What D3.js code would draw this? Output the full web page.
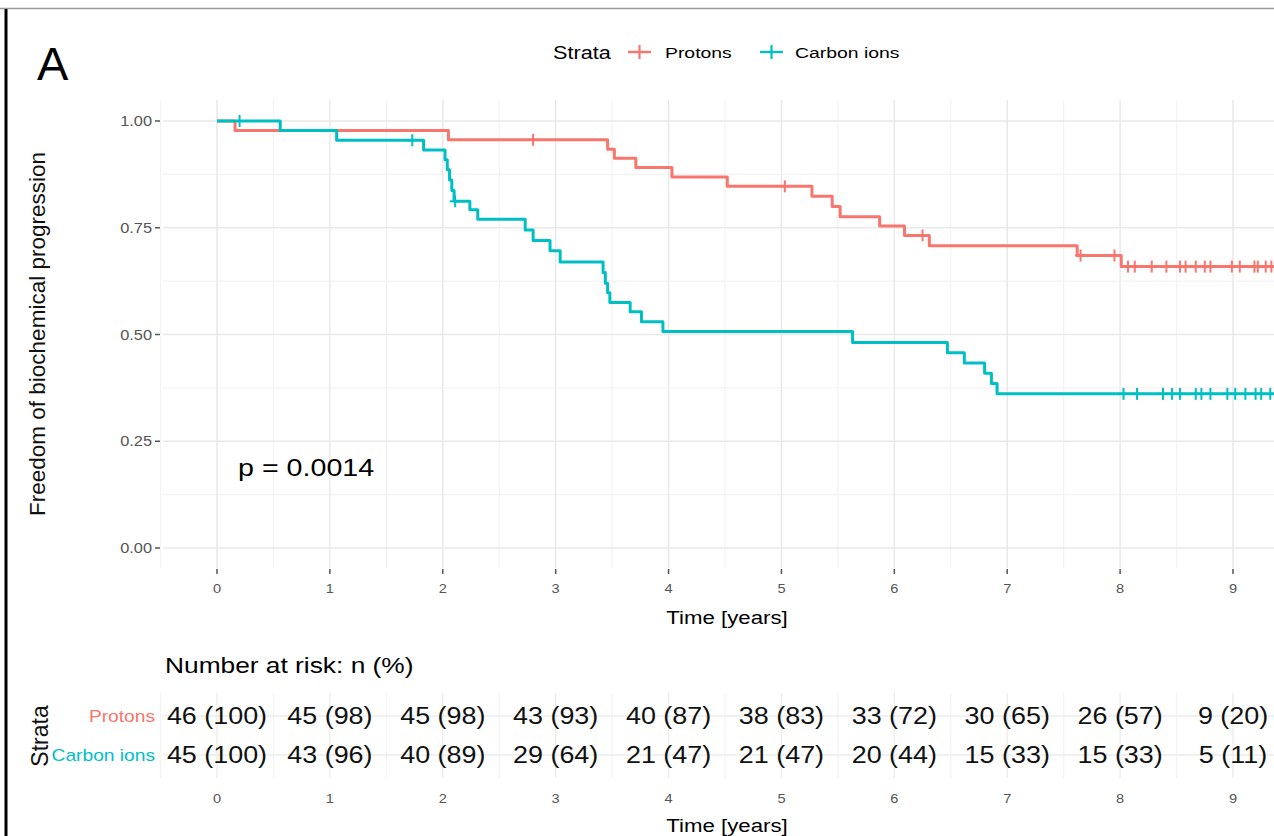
<!DOCTYPE html>
<html>
<head>
<meta charset="utf-8">
<script src="https://cdn.jsdelivr.net/npm/d3@7"></script>
<style>
  html, body { margin: 0; padding: 0; background: #fff; }
  svg { display: block; }
  text { font-family: "Liberation Sans", Arial, sans-serif; }
</style>
</head>
<body>
<svg id="chart" width="1274" height="836"></svg>
<script>
// ---- Kaplan-Meier step data (time in years, survival probability) ----
const protonTime = [0, 0.16, 2.05, 3.46, 3.52, 3.71, 4.03, 4.52, 5.27, 5.45, 5.52, 5.87, 6.09, 6.31, 7.62, 8.01, 10.0];
const protonSurv = [1, 0.978, 0.956, 0.934, 0.913, 0.891, 0.869, 0.847, 0.824, 0.800, 0.776, 0.754, 0.732, 0.708, 0.685, 0.659, 0.659];
const protonCensor = [2.80, 5.03, 6.25, 7.65, 7.95, 8.07, 8.13, 8.28, 8.41, 8.53, 8.58, 8.67, 8.75, 8.80, 8.99, 9.06, 9.19, 9.22, 9.29, 9.34];

const carbonTime = [0, 0.56, 1.06, 1.83, 2.02, 2.04, 2.06, 2.08, 2.10, 2.24, 2.31, 2.73, 2.80, 2.95, 3.04, 3.42, 3.44, 3.46, 3.48, 3.66, 3.76, 3.95, 5.63, 6.47, 6.62, 6.80, 6.86, 6.91, 10.0];
const carbonSurv = [1, 0.978, 0.955, 0.932, 0.909, 0.886, 0.862, 0.837, 0.812, 0.792, 0.770, 0.745, 0.720, 0.696, 0.670, 0.645, 0.620, 0.598, 0.575, 0.553, 0.530, 0.507, 0.481, 0.457, 0.433, 0.409, 0.385, 0.361, 0.361];
const carbonCensor = [0.20, 1.73, 2.11, 8.03, 8.15, 8.38, 8.46, 8.53, 8.67, 8.72, 8.80, 8.95, 9.02, 9.11, 9.20, 9.25, 9.33];

// ---- Axis ticks ----
const xTicks = [0, 1, 2, 3, 4, 5, 6, 7, 8, 9];
const yTicks = [0, 0.25, 0.5, 0.75, 1];
const yTickLabels = ["0.00", "0.25", "0.50", "0.75", "1.00"];

// ---- Number at risk table ----
const strataNames = ["Protons", "Carbon ions"];
const strataColors = ["#F8766D", "#00BFC4"];
const riskTimes = [0, 1, 2, 3, 4, 5, 6, 7, 8, 9];
const protonN = [46, 45, 45, 43, 40, 38, 33, 30, 26, 9];
const protonPct = [100, 98, 98, 93, 87, 83, 72, 65, 57, 20];
const carbonN = [45, 43, 40, 29, 21, 21, 20, 15, 15, 5];
const carbonPct = [100, 96, 89, 64, 47, 47, 44, 33, 33, 11];

const pValueText = "p = 0.0014";

// ---- Setup ----
const svg = d3.select("#chart");
const W = 1274, H = 836;
const SX = 1.17; // horizontal text stretch

function stext(g, x, y, str, opts) {
  opts = opts || {};
  const t = g.append("text")
    .attr("transform", `translate(${x},${y}) scale(${opts.sx || SX},1)`)
    .attr("font-size", opts.size || 14)
    .attr("fill", opts.fill || "#000")
    .attr("text-anchor", opts.anchor || "start")
    .text(str);
  return t;
}

// frame lines
svg.append("line").attr("x1", 0).attr("x2", W).attr("y1", 8.5).attr("y2", 8.5)
  .attr("stroke", "#9a9a9a").attr("stroke-width", 1.5);
svg.append("line").attr("x1", 6).attr("x2", 6).attr("y1", 9).attr("y2", H)
  .attr("stroke", "#000").attr("stroke-width", 3);

const x = d3.scaleLinear().domain([0, 9]).range([217, 1233]);
const y = d3.scaleLinear().domain([0, 1]).range([548, 121]);

const panel = { left: 163, right: W, top: 100, bottom: 568 };

// clip
svg.append("defs").append("clipPath").attr("id", "clipMain")
  .append("rect").attr("x", panel.left).attr("y", panel.top)
  .attr("width", panel.right - panel.left).attr("height", panel.bottom - panel.top);

const gridG = svg.append("g");
// minor grid
const xMinor = d3.range(-0.5, 10.5, 1);
const yMinor = d3.range(0.125, 1, 0.25);
gridG.selectAll(".vxm").data(xMinor).join("line")
  .attr("x1", d => x(d)).attr("x2", d => x(d))
  .attr("y1", panel.top).attr("y2", panel.bottom)
  .attr("stroke", "#f3f3f3").attr("stroke-width", 1.2);
gridG.selectAll(".hym").data(yMinor).join("line")
  .attr("x1", panel.left).attr("x2", panel.right)
  .attr("y1", d => y(d)).attr("y2", d => y(d))
  .attr("stroke", "#f3f3f3").attr("stroke-width", 1.2);
// major grid
gridG.selectAll(".vx").data(d3.range(0, 11)).join("line")
  .attr("x1", d => x(d)).attr("x2", d => x(d))
  .attr("y1", panel.top).attr("y2", panel.bottom)
  .attr("stroke", "#e9e9e9").attr("stroke-width", 1.5);
gridG.selectAll(".hy").data(yTicks).join("line")
  .attr("x1", panel.left).attr("x2", panel.right)
  .attr("y1", d => y(d)).attr("y2", d => y(d))
  .attr("stroke", "#e9e9e9").attr("stroke-width", 1.5);

// y axis ticks and labels
const yAxisG = svg.append("g");
yTicks.forEach((v, i) => {
  yAxisG.append("line").attr("x1", 155).attr("x2", 160).attr("y1", y(v)).attr("y2", y(v))
    .attr("stroke", "#555").attr("stroke-width", 1.5);
  stext(yAxisG, 152, y(v) + 5, yTickLabels[i], { size: 14, fill: "#555", anchor: "end" });
});
// x axis ticks and labels
const xAxisG = svg.append("g");
xTicks.forEach(v => {
  xAxisG.append("line").attr("x1", x(v)).attr("x2", x(v)).attr("y1", 569).attr("y2", 574)
    .attr("stroke", "#555").attr("stroke-width", 1.5);
  stext(xAxisG, x(v), 593, String(v), { size: 12.5, fill: "#555", anchor: "middle" });
});

// axis titles
stext(svg, 727, 624, "Time [years]", { size: 19, anchor: "middle" });
svg.append("text")
  .attr("transform", `translate(45,334) rotate(-90)`)
  .attr("font-size", 22.5).attr("text-anchor", "middle")
  .attr("fill", "#111")
  .text("Freedom of biochemical progression");

// curves
const line = d3.line().x(d => x(d[0])).y(d => y(d[1])).curve(d3.curveStepAfter);
const curvesG = svg.append("g").attr("clip-path", "url(#clipMain)");

function survAt(times, surv, t) {
  let v = surv[0];
  for (let i = 0; i < times.length; i++) { if (times[i] <= t) v = surv[i]; }
  return v;
}

const series = [
  { name: strataNames[0], color: strataColors[0], t: protonTime, s: protonSurv, c: protonCensor },
  { name: strataNames[1], color: strataColors[1], t: carbonTime, s: carbonSurv, c: carbonCensor }
];

series.forEach(sr => {
  const pts = sr.t.map((t, i) => [t, sr.s[i]]);
  curvesG.append("path").datum(pts)
    .attr("d", line).attr("fill", "none")
    .attr("stroke", sr.color).attr("stroke-width", 3)
    .attr("stroke-linejoin", "round");
  const cg = curvesG.append("g");
  sr.c.forEach(ct => {
    const cx = x(ct), cy = y(survAt(sr.t, sr.s, ct));
    cg.append("line").attr("x1", cx).attr("x2", cx).attr("y1", cy - 6).attr("y2", cy + 6)
      .attr("stroke", sr.color).attr("stroke-width", 2);
    cg.append("line").attr("x1", cx - 5.5).attr("x2", cx + 5.5).attr("y1", cy).attr("y2", cy)
      .attr("stroke", sr.color).attr("stroke-width", 2);
  });
});

// p-value
stext(svg, 238, 476, pValueText, { size: 24.5 });

// panel letter
svg.append("text").attr("x", 37).attr("y", 80).attr("font-size", 47)
  .attr("fill", "#000").text("A");

// legend
const legG = svg.append("g");
stext(legG, 553, 59, "Strata", { size: 18.5 });
const legItems = [
  { x0: 628, tx: 665, i: 0 },
  { x0: 760, tx: 795, i: 1 }
];
legItems.forEach(li => {
  const c = strataColors[li.i];
  legG.append("line").attr("x1", li.x0).attr("x2", li.x0 + 23).attr("y1", 52).attr("y2", 52)
    .attr("stroke", c).attr("stroke-width", 2.4);
  legG.append("line").attr("x1", li.x0 + 11.5).attr("x2", li.x0 + 11.5).attr("y1", 45).attr("y2", 59)
    .attr("stroke", c).attr("stroke-width", 2.2);
  stext(legG, li.tx, 58, strataNames[li.i], { size: 15.5, sx: 1.25 });
});

// ---- Risk table ----
stext(svg, 165, 673, "Number at risk: n (%)", { size: 22.5 });

const rowY = [716, 755];
const riskTop = 693, riskBottom = 778;
const riskGrid = svg.append("g");
d3.range(-0.5, 10.5, 0.5).forEach(v => {
  riskGrid.append("line").attr("x1", x(v)).attr("x2", x(v)).attr("y1", riskTop).attr("y2", riskBottom)
    .attr("stroke", Number.isInteger(v) ? "#ececec" : "#f4f4f4").attr("stroke-width", 1.3);
});
rowY.forEach(ry => {
  riskGrid.append("line").attr("x1", panel.left).attr("x2", W).attr("y1", ry).attr("y2", ry)
    .attr("stroke", "#ececec").attr("stroke-width", 1.3);
});

const riskRows = [
  { n: protonN, p: protonPct },
  { n: carbonN, p: carbonPct }
];
riskRows.forEach((r, ri) => {
  stext(svg, 155, rowY[ri] + 6, strataNames[ri], { size: 16, fill: strataColors[ri], anchor: "end", sx: 1.2 });
  riskTimes.forEach((t, i) => {
    stext(svg, x(t), rowY[ri] + 8, `${r.n[i]} (${r.p[i]})`, { size: 23, anchor: "middle", fill: "#111" });
  });
});
svg.append("text").attr("transform", "translate(48,736) rotate(-90)")
  .attr("font-size", 23).attr("text-anchor", "middle").attr("fill", "#111").text("Strata");

riskTimes.forEach(t => {
  stext(svg, x(t), 803, String(t), { size: 12.5, fill: "#555", anchor: "middle" });
});
stext(svg, 727, 832, "Time [years]", { size: 19, anchor: "middle" });
</script>
</body>
</html>
